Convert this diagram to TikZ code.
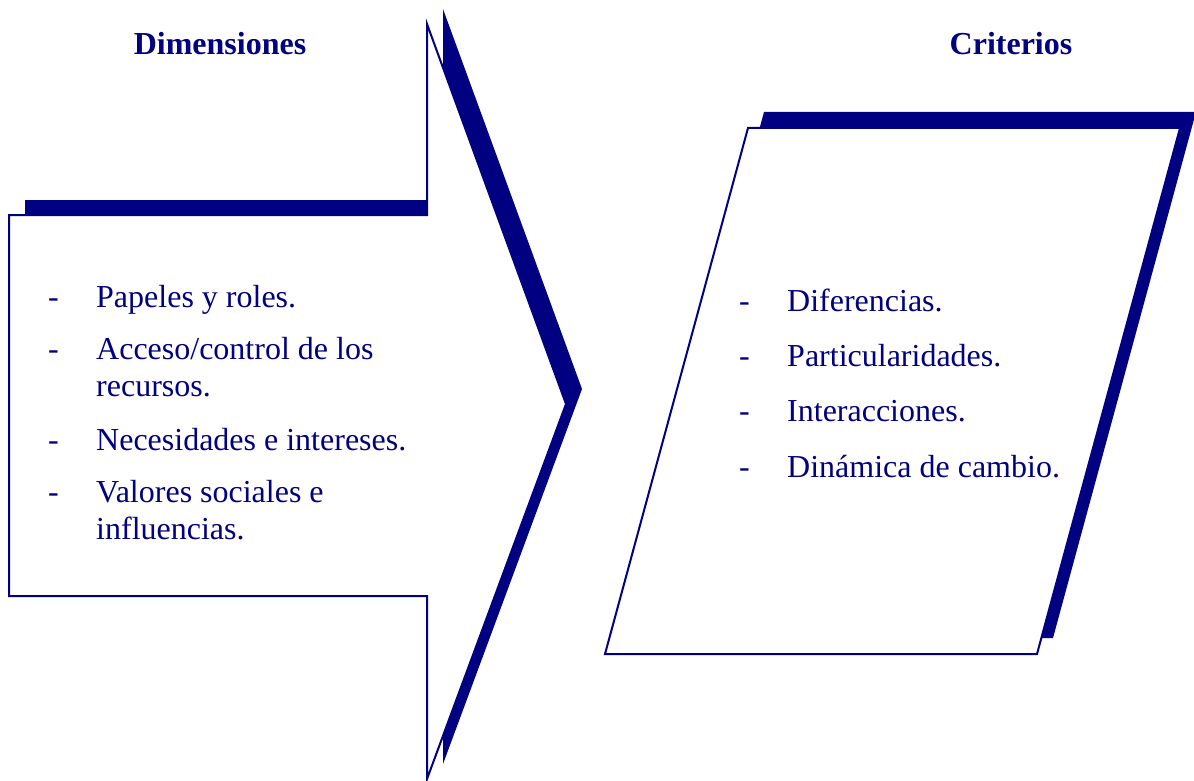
\documentclass[tikz,border=0pt]{standalone}
\usepackage{fontspec}
\setmainfont{Liberation Serif}
\definecolor{navy}{RGB}{0,0,128}
\begin{document}
\begin{tikzpicture}[x=1pt,y=-1pt,
  shadowshape/.style={fill=navy,draw=none},
  mainshape/.style={fill=white,draw=navy,line width=2pt,line join=miter},
  title/.style={font=\fontsize{32}{37}\selectfont\bfseries,text=navy,anchor=base,inner sep=0pt},
  item/.style={font=\fontsize{32}{37}\selectfont,text=navy,anchor=base west,inner sep=0pt,align=left},
  dashmark/.style={font=\fontsize{32}{37}\selectfont,text=navy,anchor=base west,inner sep=0pt}]
\useasboundingbox (0,0) rectangle (1194,781);
% arrow shadow
\fill[shadowshape] (25,200) -- (443,200) -- (443,9) -- (582,389) -- (443,764) -- (443,581) -- (25,581) -- cycle;
% arrow
\draw[mainshape] (9,215) -- (427,215) -- (427,24) -- (566,404) -- (427,779) -- (427,596) -- (9,596) -- cycle;
% parallelogram shadow
\fill[shadowshape] (764,112) -- (1196,112) -- (1053,638) -- (621,638) -- cycle;
% parallelogram
\draw[mainshape] (748,128) -- (1180,128) -- (1037,654) -- (605,654) -- cycle;
% titles
\node[title] (t1) at (220,55) {Dimensiones};
\node[title] (t2) at (1011,55) {Criterios};
% left items
\node[dashmark] (d1) at (48,307) {-};
\node[item] (i1) at (96,307) {Papeles y roles.};
\node[dashmark] (d2) at (48,359) {-};
\node[item] (i2) at (96,359) {Acceso/control de los};
\node[item] (i2b) at (96,396) {recursos.};
\node[dashmark] (d3) at (48,450) {-};
\node[item] (i3) at (96,450) {Necesidades e intereses.};
\node[dashmark] (d4) at (48,502) {-};
\node[item] (i4) at (96,502) {Valores sociales e};
\node[item] (i4b) at (96,539) {influencias.};
% right items
\node[dashmark] (e1) at (739,311) {-};
\node[item] (j1) at (787,311) {Diferencias.};
\node[dashmark] (e2) at (739,366) {-};
\node[item] (j2) at (787,366) {Particularidades.};
\node[dashmark] (e3) at (739,421) {-};
\node[item] (j3) at (787,421) {Interacciones.};
\node[dashmark] (e4) at (739,477) {-};
\node[item] (j4) at (787,477) {Dinámica de cambio.};
\end{tikzpicture}
\end{document}
